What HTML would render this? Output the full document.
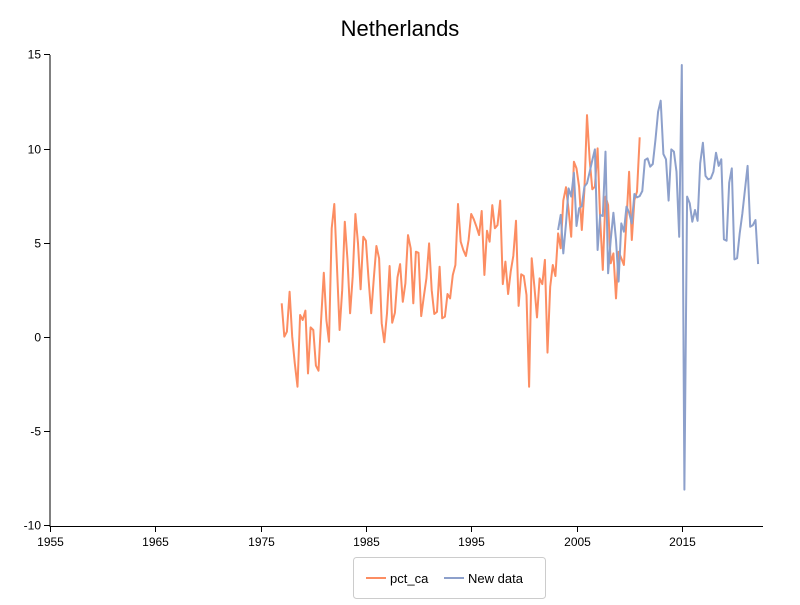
<!DOCTYPE html>
<html><head><meta charset="utf-8"><style>
body{margin:0;background:#fff;font-family:"Liberation Sans",sans-serif}
svg text{font-family:"Liberation Sans",sans-serif}
</style></head><body>
<svg id="chart" width="800" height="600">
<text x="400" y="36" text-anchor="middle" font-size="22">Netherlands</text>
<g id="axes"></g><g id="lines"></g>
<g>
<rect x="353.5" y="557.5" width="192" height="41" rx="3" fill="#fff" stroke="#ccc"/>
<g><line x1="366" y1="578" x2="386" y2="578" stroke="#fc8d62" stroke-width="2"/><text x="390" y="583" font-size="13">pct_ca</text></g>
<g><line x1="444" y1="578" x2="464" y2="578" stroke="#8da0cb" stroke-width="2"/><text x="468" y="583" font-size="13">New data</text></g>
</g>
</svg>
<script>
const xTicks=[1955,1965,1975,1985,1995,2005,2015];
const yTicks=[-10,-5,0,5,10,15];
const pctStart=1977.0;
const pctCa=[1.79,0.02,0.28,2.4,0.02,-1.4,-2.64,1.17,0.9,1.4,-1.93,0.51,0.37,-1.52,-1.79,0.9,3.41,0.9,-0.25,5.77,7.06,3.82,0.37,2.49,6.12,4.09,1.26,3.2,6.53,4.97,2.53,5.32,5.11,3.11,1.26,3.11,4.83,4.17,0.73,-0.28,1.26,3.77,0.76,1.29,3.17,3.87,1.87,2.85,5.41,4.71,1.79,4.53,4.47,1.11,2.14,3.11,4.97,
2.49,1.22,1.34,3.73,0.99,1.08,2.28,2.05,3.29,3.82,7.06,5.06,4.62,4.3,5.15,6.53,6.25,5.85,5.41,6.69,3.29,5.64,5.06,7.0,5.77,5.94,7.24,2.81,4.0,2.28,3.47,4.3,6.17,1.65,3.33,3.24,2.23,-2.64,4.18,2.67,1.04,3.11,2.81,4.09,-0.83,2.67,3.82,3.24,5.5,4.71,7.24,7.95,
6.74,5.32,9.3,8.95,7.98,5.68,7.8,11.78,9.39,7.84,7.98,10.01,6.21,3.56,7.45,7.0,3.91,4.44,2.05,4.53,4.18,3.82,6.21,8.77,5.15,7.27,7.71,10.6];
const newStart=2003.25;
const newData=[5.68,6.48,4.44,6.03,7.89,7.45,8.72,5.89,6.83,6.95,7.98,8.16,8.77,9.39,9.96,4.62,6.48,6.42,9.84,3.38,5.15,6.6,5.15,2.94,6.03,5.59,6.92,6.6,6.03,7.59,7.41,7.48,7.75,9.39,9.48,9.04,9.18,10.49,11.96,
12.54,9.71,9.43,7.24,9.96,9.84,8.77,5.32,14.44,-8.1,7.45,7.1,6.12,6.74,6.17,9.22,10.31,8.55,8.37,8.42,8.77,9.78,9.08,9.43,5.18,5.11,8.19,8.95,4.12,4.18,5.5,6.53,7.84,9.08,5.85,5.94,6.21,3.87];
const X=v=>50+(v-1955)*10.53;
const Y=v=>337-v*18.84;
const NS="http://www.w3.org/2000/svg";
const axes=document.getElementById('axes'),lines=document.getElementById('lines');
function mk(t,a,p){const e=document.createElementNS(NS,t);for(const k in a)e.setAttribute(k,a[k]);p.appendChild(e);return e;}
const ya=mk('line',{x1:50,y1:55,x2:50,y2:526.5,stroke:'#000'},axes);


const xa=mk('line',{x1:49.5,y1:526.5,x2:763,y2:526.5,stroke:'#000'},axes);


yTicks.forEach(v=>{const y=Math.round(Y(v))+0.5;mk('line',{x1:44,y1:y,x2:50,y2:y,stroke:'#000'},axes);
const t=mk('text',{x:41,y:y+4,'text-anchor':'end','font-size':12},axes);t.textContent=v;

});
xTicks.forEach(v=>{const x=Math.round(X(v))+0.5;mk('line',{x1:x,y1:526,x2:x,y2:532,stroke:'#000'},axes);
const t=mk('text',{x:x,y:546,'text-anchor':'middle','font-size':12},axes);t.textContent=v;

});
function line(data,start,color,name){const d=data.map((v,i)=>(i?'L':'M')+X(start+i*0.25).toFixed(1)+','+Y(v).toFixed(1)).join('');
const p=mk('path',{d:d,fill:'none',stroke:color,'stroke-width':2,'stroke-linejoin':'round'},lines);

}
line(pctCa,pctStart,'#fc8d62','pct-ca-line');
line(newData,newStart,'#8da0cb','new-data-line');
</script>
</body></html>
